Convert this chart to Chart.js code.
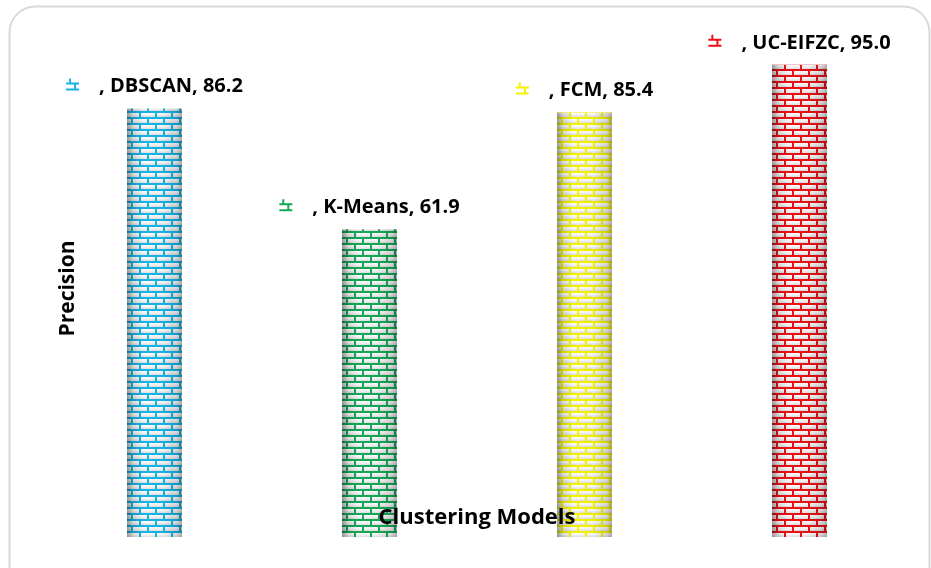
<!DOCTYPE html>
<html>
<head>
<meta charset="utf-8">
<script src="https://cdn.jsdelivr.net/npm/chart.js@4"></script>
<style>
  html,body{margin:0;padding:0;background:#fff;}
  #wrap{width:931px;height:568px;position:relative;}
</style>
</head>
<body>
<div id="wrap"><canvas id="chart"></canvas></div>
<script>
// data
const models = ['DBSCAN', 'K-Means', 'FCM', 'UC-EIFZC'];
const precision = [86.2, 61.9, 85.4, 95.0];
const brickColors = ['#16b4e6', '#16a85a', '#f2f200', '#ec1018'];
const yMin = 0, yMax = 100;

const BAR_PCT = 0.256;
const FONT = '"Open Sans", "Noto Sans", sans-serif';

// one repeat of the brick wall, mortar in the bar colour
function brickTile(color){
  const t = document.createElement('canvas'); t.width = 16; t.height = 12;
  const g = t.getContext('2d');
  const grad = g.createLinearGradient(0,0,0,6);
  grad.addColorStop(0,'#ffffff'); grad.addColorStop(0.5,'#fafafa'); grad.addColorStop(1,'#dedede');
  g.fillStyle = grad; g.fillRect(0,0,16,6);
  g.save(); g.translate(0,6); g.fillStyle = grad; g.fillRect(0,0,16,6); g.restore();
  g.fillStyle = color;
  g.fillRect(0,0,16,2); g.fillRect(0,6,16,2);
  g.fillRect(0,0,2,6); g.fillRect(8,6,2,6);
  return t;
}
const tiles = brickColors.map(brickTile);

function brickFill(c){
  const chart = c.chart, area = chart.chartArea, xs = chart.scales.x;
  if(!area || !xs) return brickColors[c.dataIndex];
  const pat = chart.ctx.createPattern(tiles[c.dataIndex], 'repeat');
  const bw = xs.width / models.length * BAR_PCT;
  const left = xs.getPixelForValue(c.dataIndex) - bw/2;
  pat.setTransform(new DOMMatrix([1,0,0,1,Math.round(left)+4, Math.round(area.bottom)]));
  return pat;
}

// small brick glyph in front of each label
function drawIcon(ctx, x, cy, color){
  ctx.save();
  ctx.strokeStyle = color; ctx.lineWidth = 2;
  ctx.beginPath();
  ctx.moveTo(x, cy); ctx.lineTo(x+13, cy);
  ctx.moveTo(x, cy+6); ctx.lineTo(x+13, cy+6);
  ctx.moveTo(x+4, cy-5); ctx.lineTo(x+4, cy);
  ctx.moveTo(x+9, cy); ctx.lineTo(x+9, cy+6);
  ctx.stroke();
  ctx.restore();
}

const decor = {
  id: 'decor',
  beforeDraw(chart){
    const ctx = chart.ctx;
    ctx.save();
    ctx.strokeStyle = '#d9d9d9'; ctx.lineWidth = 2;
    ctx.beginPath();
    ctx.roundRect(9.5, 6.5, 920, 600, 26);
    ctx.stroke();
    ctx.restore();
  },
  afterDatasetsDraw(chart){
    const ctx = chart.ctx, area = chart.chartArea;
    const meta = chart.getDatasetMeta(0);
    meta.data.forEach((el, i) => {
      const {x, y, base, width} = el.getProps(['x','y','base','width'], true);
      const left = x - width/2;
      // round-column shading
      const g = ctx.createLinearGradient(left, 0, left+width, 0);
      g.addColorStop(0, 'rgba(0,0,0,0.38)');
      g.addColorStop(0.12, 'rgba(0,0,0,0.12)');
      g.addColorStop(0.3, 'rgba(0,0,0,0)');
      g.addColorStop(0.65, 'rgba(0,0,0,0.02)');
      g.addColorStop(0.9, 'rgba(0,0,0,0.14)');
      g.addColorStop(1, 'rgba(0,0,0,0.3)');
      ctx.save();
      ctx.fillStyle = g;
      ctx.fillRect(left, y, width, base - y);
      ctx.restore();

      // value label: glyph, then ", name, value"
      ctx.save();
      ctx.font = 'bold 20px ' + FONT;
      const txt = ', ' + models[i] + ', ' + precision[i].toFixed(1);
      const tw = ctx.measureText(txt).width;
      const total = 13 + 20 + tw;
      const sx = x - total/2, cy = y - 22;
      drawIcon(ctx, sx, cy - 3, brickColors[i]);
      ctx.fillStyle = '#000';
      ctx.textBaseline = 'middle';
      ctx.fillText(txt, sx + 33, cy);
      ctx.restore();
    });

    // axis titles
    ctx.save();
    ctx.fillStyle = '#000';
    ctx.textAlign = 'center'; ctx.textBaseline = 'middle';
    ctx.font = 'bold 21px ' + FONT;
    ctx.translate(68, (area.top + area.bottom)/2);
    ctx.rotate(-Math.PI/2);
    ctx.fillText('Precision', 0, 0);
    ctx.restore();

    ctx.save();
    ctx.fillStyle = '#000';
    ctx.textAlign = 'center'; ctx.textBaseline = 'middle';
    ctx.font = 'bold 22px ' + FONT;
    ctx.fillText('Clustering Models', (area.left + area.right)/2, area.bottom - 19);
    ctx.restore();
  }
};

new Chart(document.getElementById('chart'), {
  type: 'bar',
  data: {
    labels: models,
    datasets: [{
      label: 'Precision',
      data: precision,
      backgroundColor: brickFill,
      borderWidth: 0,
      categoryPercentage: 1,
      barPercentage: BAR_PCT
    }]
  },
  options: {
    responsive: true,
    maintainAspectRatio: false,
    animation: false,
    layout: { padding: { left: 47, right: 24, top: 40, bottom: 31 } },
    scales: {
      x: { display: false },
      y: { display: false, min: yMin, max: yMax }
    },
    plugins: { legend: { display: false }, tooltip: { enabled: false } }
  },
  plugins: [decor]
});
</script>
</body>
</html>
